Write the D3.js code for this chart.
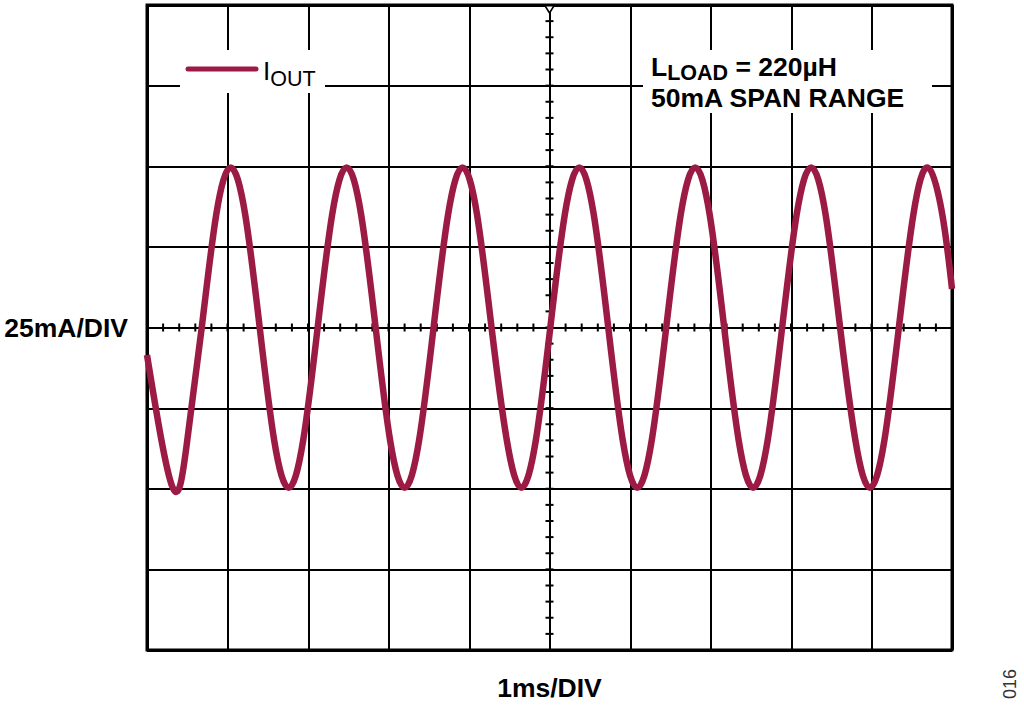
<!DOCTYPE html>
<html>
<head>
<meta charset="utf-8">
<script src="https://cdn.jsdelivr.net/npm/d3@7"></script>
<style>
  body { margin: 0; background: #fff; }
  svg { display: block; font-family: 'Liberation Sans', Arial, sans-serif; }
  .grid line { stroke: #000; stroke-width: 2; shape-rendering: crispEdges; }
  .grid path { display: none; }
  .minor line { stroke: #000; stroke-width: 2; }
  .lbl { font-weight: bold; font-size: 26.5px; fill: #000; }
</style>
</head>
<body>
<div id="chart"></div>
<script>
'use strict';
// scope trace, 1ms/DIV horizontally, 25mA/DIV vertically
const timeDivs = [0, 1, 2, 3, 4, 5, 6, 7, 8, 9, 10]            // ms
const currentDivs = [-100, -75, -50, -25, 0, 25, 50, 75, 100]   // mA
const minorStep = { time: 0.2, current: 5 }

// I_OUT trace (ms, mA)
const traceTime = [0, 0.32, 0.50, 0.68, 0.86, 1.04, 1.22, 1.40, 1.58, 1.76, 1.94, 2.12, 2.30, 2.48,
    2.66, 2.84, 3.02, 3.20, 3.38, 3.56, 3.74, 3.92, 4.10, 4.28, 4.47, 4.65, 4.83, 5.01, 5.19, 5.37,
    5.55, 5.73, 5.91, 6.09, 6.27, 6.45, 6.63, 6.81, 6.99, 7.17, 7.35, 7.53, 7.71, 7.89, 8.07, 8.25,
    8.43, 8.61, 8.80, 8.98, 9.16, 9.34, 9.52, 9.70, 9.88, 10.0]
const traceCurrent = [-8.5, -49.7, -35, 0, 35, 49.6, 35, 0, -35, -49.7, -35, 0, 35, 49.6,
    35, 0, -35, -49.7, -35, 0, 35, 49.6, 35, 0, -35, -49.7, -35, 0, 35, 49.6,
    35, 0, -35, -49.7, -35, 0, 35, 49.6, 35, 0, -35, -49.7, -35, 0, 35, 49.6,
    35, 0, -35, -49.7, -35, 0, 35, 49.6, 35, 12]

const traceColor = '#9c1b45'
const width = 1024
const height = 705
const plot = { left: 147, right: 952, top: 5, bottom: 650 }

const svg = d3.select('#chart').append('svg')
    .attr('width', width)
    .attr('height', height)

const x = d3.scaleLinear()
    .domain([0, 10])
    .range([plot.left, plot.right])
const y = d3.scaleLinear()
    .domain([-100, 100])
    .range([plot.bottom, plot.top])

svg.append('g') // vertical grid lines
    .attr('class', 'grid')
    .attr('transform', `translate(0, ${plot.bottom})`)
    .call(d3.axisBottom(x).tickValues(timeDivs).tickSize(-(plot.bottom - plot.top)).tickFormat(''))
svg.append('g') // horizontal grid lines
    .attr('class', 'grid')
    .attr('transform', `translate(${plot.left}, 0)`)
    .call(d3.axisLeft(y).tickValues(currentDivs).tickSize(-(plot.right - plot.left)).tickFormat(''))

const minorT = d3.range(0, 10.001, minorStep.time)
const minorC = d3.range(-100, 100.001, minorStep.current)
svg.append('g').attr('class', 'minor').selectAll('line') // ticks along center time axis
    .data(minorT).enter().append('line')
    .attr('x1', d => x(d)).attr('x2', d => x(d))
    .attr('y1', y(0) - 4).attr('y2', y(0) + 4)
svg.append('g').attr('class', 'minor').selectAll('line') // ticks along center current axis
    .data(minorC).enter().append('line')
    .attr('x1', x(5) - 4).attr('x2', x(5) + 4)
    .attr('y1', d => y(d)).attr('y2', d => y(d))

svg.append('path') // trigger marker at top
    .attr('d', `M ${x(5) - 5} ${y(100)} L ${x(5) + 5} ${y(100)} L ${x(5)} ${y(100) + 8} Z`)
    .attr('fill', '#fff')
    .attr('stroke', '#000')
    .attr('stroke-width', 1.6)

svg.append('rect') // frame
    .attr('x', plot.left).attr('y', plot.top)
    .attr('width', plot.right - plot.left).attr('height', plot.bottom - plot.top)
    .attr('fill', 'none').attr('stroke', '#000').attr('stroke-width', 3)

// white patches behind legend and note
svg.append('rect').attr('x', 180).attr('y', 50).attr('width', 145).attr('height', 43).attr('fill', '#fff')
svg.append('rect').attr('x', 643).attr('y', 50).attr('width', 289).attr('height', 63).attr('fill', '#fff')

const traceData = traceTime.map((t, i) => ({ t: t, i: traceCurrent[i] }))
const line = d3.line()
    .x(d => x(d.t))
    .y(d => y(d.i))
    .curve(d3.curveNatural)
svg.append('path').datum(traceData) // I_OUT trace
    .attr('fill', 'none')
    .attr('stroke', traceColor)
    .attr('stroke-width', 6.5)
    .attr('stroke-linejoin', 'round')
    .attr('d', line)

// legend
svg.append('line')
    .attr('x1', 188).attr('x2', 256).attr('y1', 69).attr('y2', 69)
    .attr('stroke', traceColor).attr('stroke-width', 5).attr('stroke-linecap', 'round')
const leg = svg.append('text').attr('x', 263).attr('y', 80).style('font-size', '26px')
leg.append('tspan').text('I')
leg.append('tspan').attr('dy', 6).style('font-size', '21.5px').text('OUT')

const note = svg.append('text').attr('class', 'lbl').attr('x', 651).attr('y', 76)
note.append('tspan').text('L')
note.append('tspan').attr('dy', 4).style('font-size', '21.5px').text('LOAD')
note.append('tspan').attr('dy', -4).text(' = 220µH')
svg.append('text').attr('class', 'lbl').attr('x', 651).attr('y', 107).text('50mA SPAN RANGE')

svg.append('text').attr('class', 'lbl') // y label
    .attr('x', 128).attr('y', 337)
    .style('text-anchor', 'end')
    .text('25mA/DIV')
svg.append('text').attr('class', 'lbl') // x label
    .attr('x', x(5)).attr('y', 697)
    .style('text-anchor', 'middle')
    .text('1ms/DIV')
svg.append('text') // figure number
    .attr('transform', 'translate(1016, 684) rotate(-90)')
    .style('text-anchor', 'middle')
    .style('font-size', '18px')
    .style('fill', '#333')
    .text('016')
</script>
</body>
</html>
